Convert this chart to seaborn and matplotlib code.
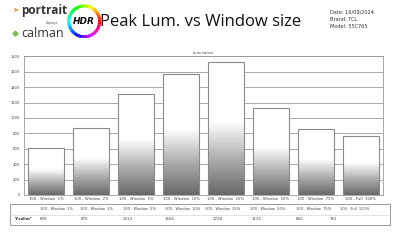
import numpy as np
import pandas as pd
import seaborn as sns
import matplotlib
matplotlib.use("Agg")
import matplotlib.pyplot as plt
from matplotlib.patches import Wedge, Circle, Rectangle
from matplotlib.colors import LinearSegmentedColormap

categories = ["100 - Window  1%", "100 - Window  2%", "100 - Window  5%", "100 - Window  10%",
              "100 - Window  25%", "100 - Window  50%", "100 - Window  75%", "100 - Full  100%"]
values = [609, 870, 1314, 1565, 1728, 1125, 850, 761]
yticks = [0, 200, 400, 600, 800, 1000, 1200, 1400, 1600, 1800]
value_labels = ["609", "870", "1314", "1565", "1728", "1125", "850", "761"]

sns.set_theme(style="white")
plt.rcParams['font.family'] = ['DejaVu Sans']

fig = plt.figure(figsize=(4, 2.4), dpi=100)
fig.patch.set_facecolor("white")
ax = fig.add_axes([0.06, 0.1875, 0.8975, 0.578])

df = pd.DataFrame({"cat": categories, "val": values})
sns.barplot(data=df, x="cat", y="val", ax=ax, color="white", width=0.8,
            edgecolor="#8a8a8a", linewidth=0.8, zorder=3)

cmap = LinearSegmentedColormap.from_list(
    "g", [(0, "#686868"), (0.25, "#a8a8a8"), (0.55, "#ffffff"), (1, "#ffffff")], N=256)
grad = np.linspace(0, 1, 256).reshape(-1, 1)
for p in ax.patches:
    x0 = p.get_x(); w = p.get_width(); h = p.get_height()
    im = ax.imshow(grad, extent=[x0, x0 + w, 0, h], origin="lower", cmap=cmap,
                   aspect="auto", zorder=3.5, vmin=0, vmax=1)
    im.set_clip_path(p)
    p.set_zorder(4)
    p.set_facecolor("none")

ax.set_xlim(-0.5, len(categories) - 0.5)
ax.set_ylim(0, 1800)
ax.set_yticks(yticks)
ax.set_yticklabels([str(t) for t in yticks], fontsize=2.6, color="#444444")
ax.tick_params(axis="y", length=2, width=0.4, color="#888888", pad=1)
ax.set_xticks(range(len(categories)))
ax.set_xticklabels(categories, fontsize=2.7, color="#444444")
ax.tick_params(axis="x", length=0, pad=1.5)
ax.set_xticks(np.arange(0.5, len(categories) - 0.5, 1), minor=True)
ax.tick_params(axis="x", which="minor", length=2, width=0.4, color="#888888", direction="out")
ax.set_xlabel(""); ax.set_ylabel("")
ax.yaxis.grid(True, color="#9a9a9a", linewidth=0.6)
ax.set_axisbelow(True)
for s in ax.spines.values():
    s.set_color("#9a9a9a"); s.set_linewidth(0.6)
ax.set_title("Luminance", fontsize=2.8, color="#444444", pad=1.5)

# Header
fig.text(0.25, 0.908, "Peak Lum. vs Window size", fontsize=12, family="Open Sans",
         ha="left", va="center", color="#111111")
fig.text(0.825, 0.95, "Date: 16/09/2024", fontsize=3.6, ha="left", va="center", color="#333333")
fig.text(0.825, 0.92, "Brand: TCL", fontsize=3.6, ha="left", va="center", color="#333333")
fig.text(0.825, 0.89, "Model: 55C765", fontsize=3.6, ha="left", va="center", color="#333333")

# Logos
fig.text(0.052, 0.955, "portrait", fontsize=8.5, fontweight="bold", family="Open Sans",
         ha="left", va="center", color="#333333")
fig.text(0.13, 0.905, "displays", fontsize=2.2, ha="center", va="center", color="#555555")
fig.text(0.052, 0.862, "calman", fontsize=9, family="Open Sans",
         ha="left", va="center", color="#333333")
fig.text(0.037, 0.958, "\u27a4", fontsize=5, color="#f08a24", ha="center", va="center")
fig.text(0.038, 0.862, "\u25c6", fontsize=6.5, color="#7cc24a", ha="center", va="center")

lax = fig.add_axes([0.168, 0.84, 0.085, 0.142])
lax.set_xlim(-1, 1); lax.set_ylim(-1, 1); lax.set_aspect("equal"); lax.axis("off")
hues = plt.get_cmap("hsv")(np.linspace(0, 1, 60))
for i, c in enumerate(hues):
    lax.add_patch(Wedge((0, 0), 1.0, i * 6, i * 6 + 6.5, width=0.2, color=c, lw=0))
lax.add_patch(Circle((0, 0), 0.80, color="white", lw=0))
lax.text(0, 0, "HDR", fontsize=6.5, fontweight="bold", style="italic", ha="center", va="center",
         color="#111111")

# Data table
tax = fig.add_axes([0, 0, 1, 1], facecolor="none")
tax.set_xlim(0, 400); tax.set_ylim(240, 0); tax.axis("off")
tax.add_patch(Rectangle((10, 204), 380, 21, fill=False, ec="#9a9a9a", lw=0.7))
tax.plot([10, 390], [214.5, 214.5], color="#d8d8d8", lw=0.5)
col_x = [40, 80, 123, 165, 205, 250, 296, 340]
val_x = [40, 81, 123, 165, 213, 252, 296, 330]
for cx, lab in zip(col_x, categories):
    tax.text(cx, 209.5, lab, fontsize=2.6, ha="left", va="center", color="#444444")
for vx, lab in zip(val_x, value_labels):
    tax.text(vx, 219.5, lab, fontsize=2.9, ha="left", va="center", color="#444444")
tax.text(14, 219.5, "Y cd/m\u00b2", fontsize=3.0, fontweight="bold", ha="left", va="center",
         color="#222222")

fig.savefig("out.png", dpi=100, facecolor="white")
